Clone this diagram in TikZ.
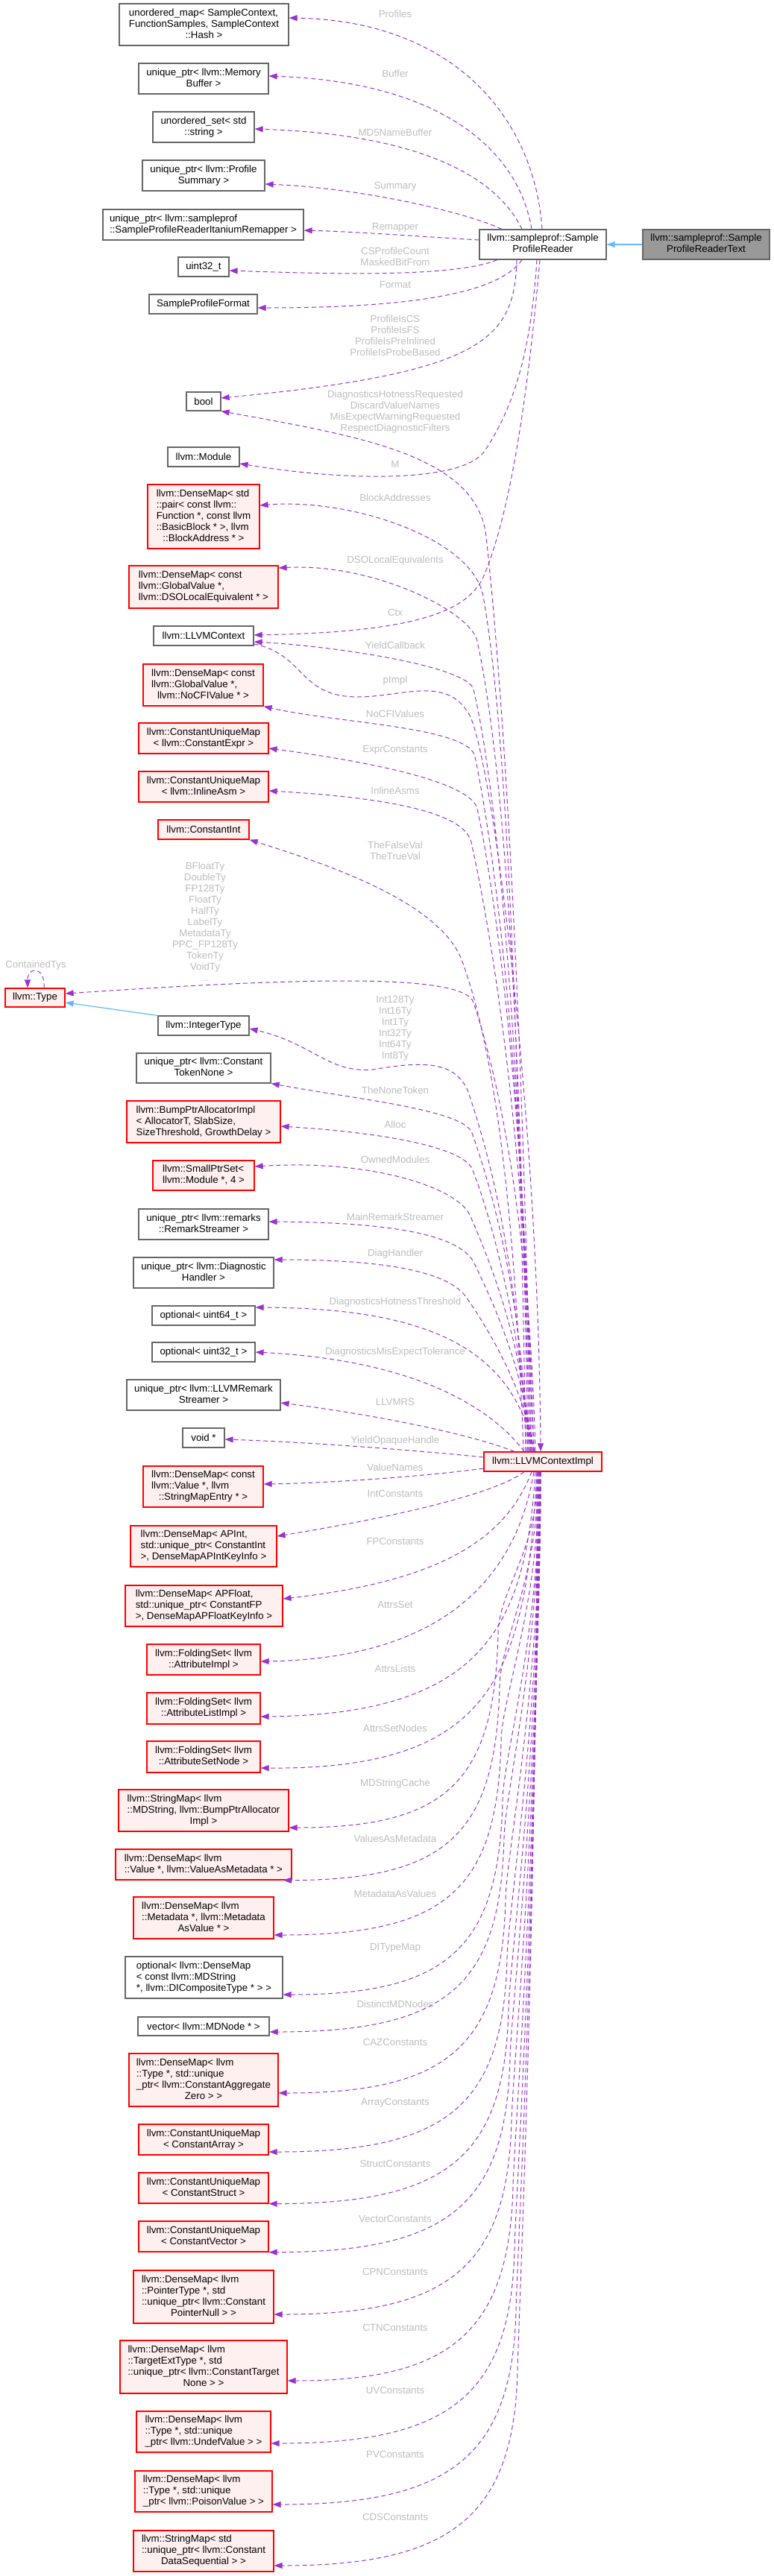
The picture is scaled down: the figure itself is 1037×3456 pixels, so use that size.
\documentclass[tikz,border=0pt]{standalone}
\usepackage{fontspec}
\setmainfont{Liberation Sans}
\usetikzlibrary{arrows.meta}
\definecolor{edgec}{HTML}{9A32CD}
\definecolor{lblc}{HTML}{BEBEBE}
\definecolor{redfill}{HTML}{FFF0F0}
\definecolor{grayb}{HTML}{666666}
\definecolor{grayf}{HTML}{999999}
\definecolor{inhc}{HTML}{63B8FF}
\newcommand{\nfont}{\fontsize{13.3}{15}\selectfont}
\newcommand{\ml}[2]{\begin{tabular}{@{}l@{}}#1\\\multicolumn{1}{@{}c@{}}{#2}\end{tabular}}
\newcommand{\dnedge}[4]{\draw[dep] (LCI.south -| #1,0) .. controls (#1,{(1974+#4-260)/2}) and ({#2+1},{#4-320}) .. (#2,{#4-260}) .. controls ({#2-5},{#4-62}) and (600,#4) .. (#3);}
\tikzset{
 box/.style={draw=grayb, fill=white, line width=1.2pt, inner sep=0pt, font=\nfont, align=center},
 redbox/.style={box, draw=red, fill=redfill},
 sz/.style 2 args={minimum width=#1pt, minimum height=#2pt},
 dep/.style={draw=edgec, line width=1pt, dash pattern=on 6pt off 4pt, -{Triangle[length=11pt,width=8pt]}},
 inh/.style={draw=inhc, line width=1.2pt, -{Triangle[length=11pt,width=8pt]}},
 lbl/.style={text=lblc, font=\nfont, inner sep=0pt, align=center},
}
\begin{document}
\begin{tikzpicture}[x=1pt,y=-1pt]
\fill[white] (0,0) rectangle (1037,3456);
\useasboundingbox (0,0) rectangle (1037,3456);

% ---- main classes
\node[box, sz={170}{40}] (SPR) at (728,328) {\ml{llvm::sampleprof::Sample}{ProfileReader}};
\node[box, fill=grayf, sz={170}{40}] (SPRT) at (947,328) {\ml{llvm::sampleprof::Sample}{ProfileReaderText}};
\node[redbox, sz={158}{26}] (LCI) at (728,1961) {llvm::LLVMContextImpl};

% ---- left column
\node[box, sz={227}{56}] (UM) at (273.5,33) {\ml{unordered\_map< SampleContext,\\FunctionSamples, SampleContext}{::Hash >}};
\node[box, sz={174}{41}] (MB) at (273,105.5) {\ml{unique\_ptr< llvm::Memory}{Buffer >}};
\node[box, sz={136}{41}] (US) at (273,170.5) {\ml{unordered\_set< std}{::string >}};
\node[box, sz={164}{41}] (PS) at (273,235.5) {\ml{unique\_ptr< llvm::Profile}{Summary >}};
\node[box, sz={269}{41}] (RM) at (272.5,301.5) {\ml{unique\_ptr< llvm::sampleprof}{::SampleProfileReaderItaniumRemapper >}};
\node[box, sz={68}{26}] (U32) at (273,358) {uint32\_t};
\node[box, sz={145}{26}] (SPF) at (272.5,408) {SampleProfileFormat};
\node[box, sz={46}{25}] (BOOL) at (273,538.5) {bool};
\node[box, sz={96}{26}] (MOD) at (273,613) {llvm::Module};
\node[redbox, sz={150}{86}] (BA) at (273,693) {\ml{llvm::DenseMap< std\\::pair< const llvm::\\Function *, const llvm\\::BasicBlock * >, llvm}{::BlockAddress * >}};
\node[redbox, sz={200}{57}] (DSO) at (273,787.5) {\ml{llvm::DenseMap< const\\llvm::GlobalValue *,}{llvm::DSOLocalEquivalent * >}};
\node[box, sz={134}{26}] (LC) at (273,853) {llvm::LLVMContext};
\node[redbox, sz={161}{56}] (NCFI) at (272.5,919) {\ml{llvm::DenseMap< const\\llvm::GlobalValue *,}{llvm::NoCFIValue * >}};
\node[redbox, sz={174}{41}] (CE) at (273,990.5) {\ml{llvm::ConstantUniqueMap}{< llvm::ConstantExpr >}};
\node[redbox, sz={174}{41}] (IA) at (273,1055.5) {\ml{llvm::ConstantUniqueMap}{< llvm::InlineAsm >}};
\node[redbox, sz={122}{26}] (CI) at (273,1113) {llvm::ConstantInt};
\node[redbox, sz={80}{25}] (TY) at (47,1338.5) {llvm::Type};
\node[box, sz={122}{26}] (INT) at (273,1376) {llvm::IntegerType};
\node[box, sz={180}{40}] (CTN) at (273,1433) {\ml{unique\_ptr< llvm::Constant}{TokenNone >}};
\node[redbox, sz={206}{56}] (BPA) at (273,1505) {\ml{llvm::BumpPtrAllocatorImpl\\< AllocatorT, SlabSize,}{SizeThreshold, GrowthDelay >}};
\node[redbox, sz={136}{40}] (SPS) at (273,1577) {\ml{llvm::SmallPtrSet<}{llvm::Module *, 4 >}};
\node[box, sz={174}{41}] (RS) at (273,1642.5) {\ml{unique\_ptr< llvm::remarks}{::RemarkStreamer >}};
\node[box, sz={188}{41}] (DH) at (273,1707.5) {\ml{unique\_ptr< llvm::Diagnostic}{Handler >}};
\node[box, sz={138}{26}] (O64) at (273,1765) {optional< uint64\_t >};
\node[box, sz={138}{26}] (O32) at (273,1814) {optional< uint32\_t >};
\node[box, sz={206}{41}] (LRS) at (273,1871.5) {\ml{unique\_ptr< llvm::LLVMRemark}{Streamer >}};
\node[box, sz={56}{26}] (VOID) at (273,1929) {void *};
\node[redbox, sz={161}{55}] (SME) at (272.5,1994.5) {\ml{llvm::DenseMap< const\\llvm::Value *, llvm}{::StringMapEntry * >}};
\node[redbox, sz={196}{55}] (API) at (273,2074.5) {\ml{llvm::DenseMap< APInt,\\std::unique\_ptr< ConstantInt}{>, DenseMapAPIntKeyInfo >}};
\node[redbox, sz={211}{55}] (APF) at (273.5,2154.5) {\ml{llvm::DenseMap< APFloat,\\std::unique\_ptr< ConstantFP}{>, DenseMapAPFloatKeyInfo >}};
\node[redbox, sz={152}{41}] (AI) at (273,2226.5) {\ml{llvm::FoldingSet< llvm}{::AttributeImpl >}};
\node[redbox, sz={152}{42}] (ALI) at (273,2292) {\ml{llvm::FoldingSet< llvm}{::AttributeListImpl >}};
\node[redbox, sz={152}{42}] (ASN) at (273,2357) {\ml{llvm::FoldingSet< llvm}{::AttributeSetNode >}};
\node[redbox, sz={228}{56}] (SMM) at (273,2429) {\ml{llvm::StringMap< llvm\\::MDString, llvm::BumpPtrAllocator}{Impl >}};
\node[redbox, sz={236}{41}] (VAM) at (273,2501.5) {\ml{llvm::DenseMap< llvm}{::Value *, llvm::ValueAsMetadata * >}};
\node[redbox, sz={188}{56}] (MAV) at (273,2573) {\ml{llvm::DenseMap< llvm\\::Metadata *, llvm::Metadata}{AsValue * >}};
\node[box, sz={211}{56}] (OPT) at (273.5,2653) {\ml{optional< llvm::DenseMap\\< const llvm::MDString}{*, llvm::DICompositeType * > >}};
\node[box, sz={176}{25}] (VEC) at (273,2718.5) {vector< llvm::MDNode * >};
\node[redbox, sz={200}{71}] (CAZ) at (273,2790.5) {\ml{llvm::DenseMap< llvm\\::Type *, std::unique\\\_ptr< llvm::ConstantAggregate}{Zero > >}};
\node[redbox, sz={174}{41}] (CA) at (273,2870.5) {\ml{llvm::ConstantUniqueMap}{< ConstantArray >}};
\node[redbox, sz={174}{41}] (CS) at (273,2935.5) {\ml{llvm::ConstantUniqueMap}{< ConstantStruct >}};
\node[redbox, sz={174}{41}] (CV) at (273,3000.5) {\ml{llvm::ConstantUniqueMap}{< ConstantVector >}};
\node[redbox, sz={188}{71}] (PN) at (273,3081.5) {\ml{llvm::DenseMap< llvm\\::PointerType *, std\\::unique\_ptr< llvm::Constant}{PointerNull > >}};
\node[redbox, sz={224}{71}] (TN) at (273,3175.5) {\ml{llvm::DenseMap< llvm\\::TargetExtType *, std\\::unique\_ptr< llvm::ConstantTarget}{None > >}};
\node[redbox, sz={180}{55}] (UV) at (273,3262.5) {\ml{llvm::DenseMap< llvm\\::Type *, std::unique}{\_ptr< llvm::UndefValue > >}};
\node[redbox, sz={184}{55}] (PV) at (273,3342.5) {\ml{llvm::DenseMap< llvm\\::Type *, std::unique}{\_ptr< llvm::PoisonValue > >}};
\node[redbox, sz={188}{55}] (DS) at (273,3422.5) {\ml{llvm::StringMap< std\\::unique\_ptr< llvm::Constant}{DataSequential > >}};

% ---- inheritance
\draw[inh] (SPRT.west) -- (SPR.east);
\draw[inh] (INT.north west) -- (TY.east |- 0,1345);

% ---- edges from SampleProfileReader
\draw[dep] (SPR.north -| 727,0) .. controls (717,160) and (610,28) .. (UM.east |- 0,24);
\draw[dep] (SPR.north -| 713,0) .. controls (695,200) and (590,110) .. (MB.east |- 0,102);
\draw[dep] (SPR.north -| 700,0) .. controls (665,235) and (560,180) .. (US.east |- 0,173);
\draw[dep] (SPR.north -| 673,0) .. controls (620,283) and (480,252) .. (PS.east |- 0,247);
\draw[dep] (SPR.west |- 0,322) .. controls (560,317) and (480,311) .. (RM.east |- 0,309);
\draw[dep] (SPR.south -| 667,0) .. controls (610,372) and (450,368) .. (U32.east |- 0,363);
\draw[dep] (SPR.south -| 700,0) .. controls (670,392) and (560,413) .. (SPF.east |- 0,413);
\draw[dep] (SPR.south -| 693,0) .. controls (690,455) and (650,500) .. (BOOL.east |- 0,534);
\draw[dep] (SPR.south -| 720,0) .. controls (712,470) and (690,545) .. (650,605) .. controls (623,645) and (480,648) .. (MOD.east |- 0,622);
\draw[dep] (SPR.south -| 724,0) .. controls (700,620) and (670,720) .. (650,770) .. controls (630,820) and (560,848) .. (LC.east |- 0,852);

% ---- edges from LLVMContextImpl going up
\draw[dep] (LCI.north -| 712,0) .. controls (700,1300) and (672,900) .. (652,720) .. controls (640,610) and (480,585) .. (BOOL.south east);
\draw[dep] (LCI.north -| 705,0) .. controls (695,1300) and (675,950) .. (648,800) .. controls (634,722) and (470,668) .. (BA.east |- 0,678);
\draw[dep] (LCI.north -| 708,0) .. controls (698,1300) and (670,1000) .. (640,860) .. controls (631,820) and (500,755) .. (DSO.east |- 0,762);
\draw[dep] (LCI.north -| 710,0) .. controls (700,1400) and (665,1050) .. (635,925) .. controls (628,895) and (460,868) .. (LC.east |- 0,861);
\draw[dep] (LC.east |- 0,864) .. controls (410,878) and (400,935) .. (480,935) .. controls (540,935) and (600,905) .. (630,960) .. controls (660,1020) and (722,1500) .. (LCI.north -| 725,0);
\draw[dep] (LCI.north -| 712,0) .. controls (702,1450) and (665,1150) .. (637,1015) .. controls (629,975) and (450,970) .. (NCFI.south east);
\draw[dep] (LCI.north -| 714,0) .. controls (705,1500) and (665,1200) .. (640,1085) .. controls (633,1053) and (520,1025) .. (CE.east |- 0,1004);
\draw[dep] (LCI.north -| 716,0) .. controls (705,1550) and (665,1280) .. (632,1130) .. controls (623,1090) and (520,1070) .. (IA.east |- 0,1061);
\draw[dep] (LCI.north -| 702,0) .. controls (690,1600) and (660,1400) .. (620,1290) .. controls (591,1210) and (440,1160) .. (CI.south east);
\draw[dep] (LCI.north -| 718,0) .. controls (712,1700) and (680,1480) .. (635,1345) .. controls (622,1305) and (400,1312) .. (TY.east |- 0,1333);
\draw[dep] (TY.north -| 59,0) .. controls (61,1296) and (37,1296) .. (TY.north -| 37,0);
\draw[dep] (LCI.north -| 706,0) .. controls (695,1700) and (660,1560) .. (628,1465) .. controls (610,1420) and (560,1425) .. (500,1435) .. controls (440,1440) and (420,1400) .. (INT.east |- 0,1380);
\draw[dep] (LCI.north -| 708,0) .. controls (700,1750) and (665,1610) .. (633,1520) .. controls (622,1489) and (480,1475) .. (CTN.south east);
\draw[dep] (LCI.north -| 710,0) .. controls (700,1800) and (665,1650) .. (634,1570) .. controls (624,1540) and (520,1520) .. (BPA.east |- 0,1511);
\draw[dep] (LCI.north -| 712,0) .. controls (702,1820) and (670,1720) .. (630,1630) .. controls (614,1594) and (500,1555) .. (SPS.east |- 0,1565);
\draw[dep] (LCI.north -| 714,0) .. controls (705,1850) and (668,1760) .. (636,1695) .. controls (620,1660) and (540,1640) .. (RS.east |- 0,1639);
\draw[dep] (LCI.north -| 716,0) .. controls (705,1870) and (660,1790) .. (625,1740) .. controls (605,1712) and (540,1690) .. (DH.east |- 0,1690);
\draw[dep] (LCI.north -| 717,0) .. controls (690,1830) and (610,1755) .. (O64.east |- 0,1754);
\draw[dep] (LCI.north -| 703,0) .. controls (660,1890) and (560,1825) .. (O32.east |- 0,1814);
\draw[dep] (LCI.north -| 690,0) .. controls (620,1920) and (480,1895) .. (LRS.east |- 0,1882);
\draw[dep] (LCI.west |- 0,1955) .. controls (560,1946) and (420,1935) .. (VOID.east |- 0,1931);

% ---- edges from LLVMContextImpl going down
\draw[dep] (LCI.west |- 0,1970) .. controls (560,1982) and (430,1990) .. (SME.east |- 0,1991);
\draw[dep] (LCI.south -| 703,0) .. controls (670,2000) and (560,2030) .. (API.east |- 0,2061);
\draw[dep] (LCI.south -| 713,0) .. controls (680,2060) and (600,2120) .. (APF.east |- 0,2145);
\draw[dep] (LCI.south -| 716,0) .. controls (690,2130) and (580,2225) .. (AI.east |- 0,2229);
\draw[dep] (LCI.south -| 718,0) .. controls (705,2180) and (650,2300) .. (ALI.east |- 0,2303);
\draw[dep] (LCI.south -| 720,0) .. controls (705,2250) and (660,2374) .. (ASN.east |- 0,2372);
\dnedge{721}{668}{SMM.east |- 0,2452}{2452}
\dnedge{722}{670}{VAM.south -| 380,0}{2522}
\dnedge{723}{672}{MAV.east |- 0,2596}{2596}
\dnedge{724}{674}{OPT.east |- 0,2676}{2676}
\dnedge{724}{676}{VEC.east |- 0,2726}{2726}
\dnedge{725}{678}{CAZ.east |- 0,2808}{2808}
\dnedge{725}{680}{CA.east |- 0,2887}{2887}
\dnedge{725}{682}{CS.south east}{2956}
\dnedge{725}{684}{CV.south east}{3021}
\dnedge{724}{686}{PN.east |- 0,3105}{3105}
\dnedge{723}{688}{TN.east |- 0,3194}{3194}
\dnedge{722}{690}{UV.east |- 0,3278}{3278}
\dnedge{721}{692}{PV.east |- 0,3360}{3360}
\dnedge{720}{694}{DS.east |- 0,3442}{3442}

% ---- edge labels
\node[lbl] (l1) at (530,19) {Profiles};
\node[lbl] (l2) at (530,99) {Buffer};
\node[lbl] (l3) at (530,178) {MD5NameBuffer};
\node[lbl] (l4) at (530,250) {Summary};
\node[lbl] (l5) at (530,305) {Remapper};
\node[lbl] (l6) at (530,344) {CSProfileCount\\MaskedBitFrom};
\node[lbl] (l7) at (530,382) {Format};
\node[lbl] (l8) at (530,450) {ProfileIsCS\\ProfileIsFS\\ProfileIsPreInlined\\ProfileIsProbeBased};
\node[lbl] (l9) at (530,552.5) {DiagnosticsHotnessRequested\\DiscardValueNames\\MisExpectWarningRequested\\RespectDiagnosticFilters};
\node[lbl] (l10) at (530,623) {M};
\node[lbl] (l11) at (530,668) {BlockAddresses};
\node[lbl] (l12) at (530,752) {DSOLocalEquivalents};
\node[lbl] (l13) at (530,822) {Ctx};
\node[lbl] (l14) at (530,866) {YieldCallback};
\node[lbl] (l15) at (530,913) {pImpl};
\node[lbl] (l16) at (530,958) {NoCFIValues};
\node[lbl] (l17) at (530,1006) {ExprConstants};
\node[lbl] (l18) at (530,1061) {InlineAsms};
\node[lbl] (l19) at (530,1141) {TheFalseVal\\TheTrueVal};
\node[lbl] (l20) at (275,1237) {BFloatTy\\DoubleTy\\FP128Ty\\FloatTy\\HalfTy\\LabelTy\\MetadataTy\\PPC\_FP128Ty\\TokenTy\\VoidTy\\...};
\node[lbl] (l21) at (48,1295) {ContainedTys};
\node[lbl] (l22) at (530,1379.5) {Int128Ty\\Int16Ty\\Int1Ty\\Int32Ty\\Int64Ty\\Int8Ty};
\node[lbl] (l23) at (530,1463) {TheNoneToken};
\node[lbl] (l24) at (530,1509) {Alloc};
\node[lbl] (l25) at (530,1556) {OwnedModules};
\node[lbl] (l26) at (530,1633) {MainRemarkStreamer};
\node[lbl] (l27) at (530,1682) {DiagHandler};
\node[lbl] (l28) at (530,1747) {DiagnosticsHotnessThreshold};
\node[lbl] (l29) at (530,1814) {DiagnosticsMisExpectTolerance};
\node[lbl] (l30) at (530,1881) {LLVMRS};
\node[lbl] (l31) at (530,1933) {YieldOpaqueHandle};
\node[lbl] (l32) at (530,1969) {ValueNames};
\node[lbl] (l33) at (530,2004) {IntConstants};
\node[lbl] (l34) at (530,2068) {FPConstants};
\node[lbl] (l35) at (530,2153) {AttrsSet};
\node[lbl] (l36) at (530,2239) {AttrsLists};
\node[lbl] (l37) at (530,2319) {AttrsSetNodes};
\node[lbl] (l38) at (530,2393) {MDStringCache};
\node[lbl] (l39) at (530,2467) {ValuesAsMetadata};
\node[lbl] (l40) at (530,2541) {MetadataAsValues};
\node[lbl] (l41) at (530,2613) {DITypeMap};
\node[lbl] (l42) at (530,2689) {DistinctMDNodes};
\node[lbl] (l43) at (530,2740) {CAZConstants};
\node[lbl] (l44) at (530,2821) {ArrayConstants};
\node[lbl] (l45) at (530,2903) {StructConstants};
\node[lbl] (l46) at (530,2977) {VectorConstants};
\node[lbl] (l47) at (530,3048) {CPNConstants};
\node[lbl] (l48) at (530,3123) {CTNConstants};
\node[lbl] (l49) at (530,3207) {UVConstants};
\node[lbl] (l50) at (530,3293) {PVConstants};
\node[lbl] (l51) at (530,3377) {CDSConstants};
\end{tikzpicture}
\end{document}
